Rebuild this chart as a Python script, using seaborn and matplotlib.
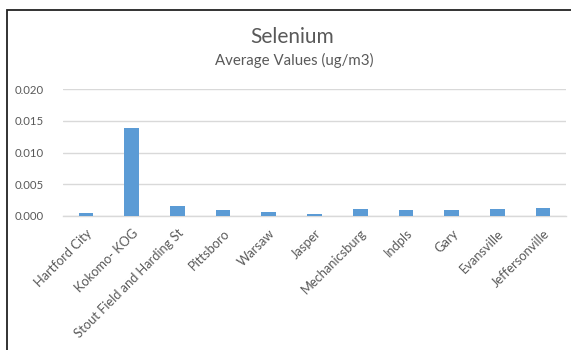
import matplotlib
matplotlib.use("Agg")
import matplotlib.pyplot as plt
from matplotlib.patches import Rectangle
import seaborn as sns
import pandas as pd

sites = ["Hartford City", "Kokomo- KOG", "Stout Field and Harding St", "Pittsboro",
         "Warsaw", "Jasper", "Mechanicsburg", "Indpls", "Gary", "Evansville",
         "Jeffersonville"]
selenium = [0.00047, 0.0138, 0.0016, 0.0009, 0.0007, 0.0003, 0.0011, 0.0009,
            0.0009, 0.0011, 0.00125]
yticks = [0.000, 0.005, 0.010, 0.015, 0.020]

df = pd.DataFrame({"site": sites, "value": selenium})

sns.set_theme(style="white")
plt.rcParams["font.family"] = ["Lato", "DejaVu Sans"]

fig = plt.figure(figsize=(5.71, 3.5), dpi=100)
ax = fig.add_axes([63 / 571, 1 - 216 / 350, (566 - 63) / 571, (216 - 89) / 350])

sns.barplot(data=df, x="site", y="value", color="#5B9BD5", saturation=1,
            width=0.32, linewidth=0, ax=ax, zorder=3)

ax.set_ylim(0, 0.020)
ax.set_xlim(-0.5, len(sites) - 0.5)
ax.set_yticks(yticks)
ax.set_yticklabels([f"{t:.3f}" for t in yticks], color="#595959", fontsize=8.2)
ax.set_xticks(range(len(sites)))
ax.set_xticklabels(sites, rotation=45, ha="right", rotation_mode="anchor",
                   color="#595959", fontsize=9.3)
ax.tick_params(axis="x", length=0, pad=8)
ax.tick_params(axis="y", length=0, pad=14)
ax.set_xlabel("")
ax.set_ylabel("")
ax.yaxis.grid(True, color="#D9D9D9", linewidth=1)
ax.set_axisbelow(True)
for side in ["top", "right", "left"]:
    ax.spines[side].set_visible(False)
ax.spines["bottom"].set_color("#D9D9D9")
ax.spines["bottom"].set_linewidth(1)

fig.text(292 / 571, 1 - 37 / 350, "Selenium", ha="center", va="center",
         fontsize=15, color="#595959")
fig.text(294 / 571, 1 - 60 / 350, "Average Values (ug/m3)", ha="center",
         va="center", fontsize=10.8, color="#595959")

# chart frame
fig.patches.append(Rectangle((7 / 571, -0.1), 1.2, 1 - 10 / 350 + 0.1,
                             transform=fig.transFigure, fill=False,
                             edgecolor="#222222", linewidth=1.3))

fig.savefig("out.png", dpi=100, facecolor="white")
